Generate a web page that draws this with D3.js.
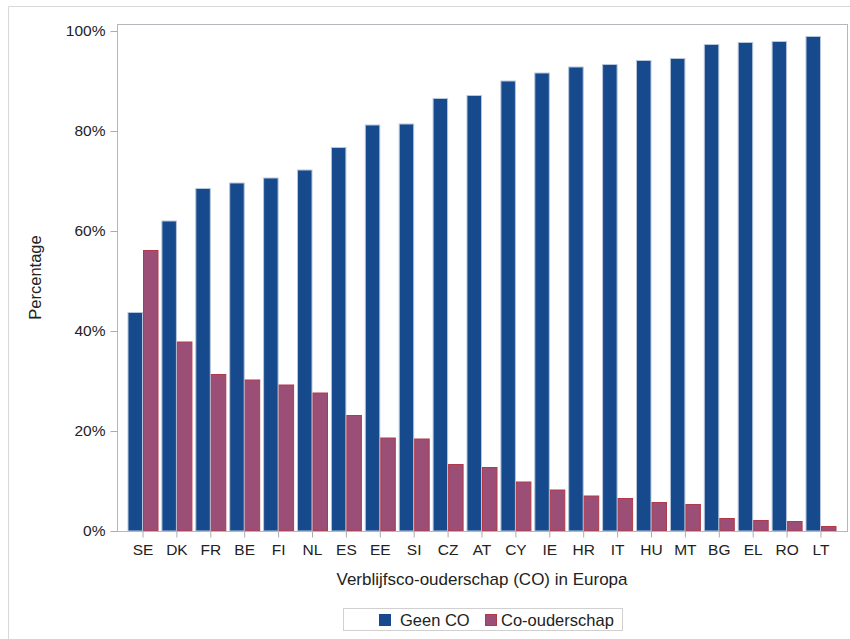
<!DOCTYPE html>
<html><head><meta charset="utf-8">
<script src="https://cdn.jsdelivr.net/npm/d3@7"></script>
<style>body{margin:0;background:#fff}svg{display:block;font-family:Arial,"Liberation Sans",sans-serif}</style>
</head><body>
<svg id="c" width="850" height="639"></svg>
<script>
const categories = ["SE","DK","FR","BE","FI","NL","ES","EE","SI","CZ","AT","CY","IE","HR","IT","HU","MT","BG","EL","RO","LT"];
const geenCO = [43.8,62.1,68.6,69.7,70.7,72.3,76.8,81.3,81.5,86.6,87.2,90.1,91.7,92.9,93.4,94.2,94.6,97.4,97.8,98.0,99.0];
const coOuderschap = [56.2,37.9,31.4,30.3,29.3,27.7,23.2,18.7,18.5,13.4,12.8,9.9,8.3,7.1,6.6,5.8,5.4,2.6,2.2,2.0,1.0];
const seriesNames = ["Geen CO","Co-ouderschap"];
const yTicks = [0,20,40,60,80,100];

const svg = d3.select("#c");
const W = 850, H = 639;
const L = 117, R = 848, T = 24, B = 531;
const FONT = "Arial,'Liberation Sans',sans-serif";

// outer frame
svg.append("path").attr("d",`M8.5,${H} V6.5 H${W}`).attr("fill","none").attr("stroke","#d8d8d8");

const x = d3.scaleBand().domain(categories).range([127.5, 836.5]).paddingInner(0.0855).paddingOuter(0);
const x1 = d3.scaleBand().domain(seriesNames).range([0, x.bandwidth()]);
const y = d3.scaleLinear().domain([0,100]).range([B, 31]);

const colors = {fill:["#164a8c","#9b4f76"], stroke:["#b8c6dc","#b23a48"]};

const data = [geenCO, coOuderschap];
const g = svg.append("g");
data.forEach((vals, si) => {
  g.selectAll(null).data(categories).enter().append("rect")
    .attr("x", c => x(c) + x1(seriesNames[si]) + 0.5)
    .attr("y", (c,i) => y(vals[i]) + 0.5)
    .attr("width", x1.bandwidth() - 1)
    .attr("height", (c,i) => B - y(vals[i]) - 0.5)
    .attr("fill", colors.fill[si])
    .attr("stroke", colors.stroke[si])
    .attr("stroke-width", 1);
});

// plot border
svg.append("rect").attr("x",L+0.5).attr("y",T+0.5).attr("width",R-L-1).attr("height",B-T)
  .attr("fill","none").attr("stroke","#b4b8bc");

// y axis
const ya = svg.append("g").attr("transform",`translate(${L+0.5},0)`)
  .call(d3.axisLeft(y).tickValues(yTicks).tickFormat(d=>d+"%").tickSize(7).tickSizeOuter(0));
ya.select(".domain").remove();
ya.selectAll("line").attr("stroke","#a8acb0");
ya.selectAll("text").attr("font-size",15.5).attr("fill","#222").attr("dx",-2).attr("font-family",FONT);

// x axis
const xa = svg.append("g").attr("transform",`translate(0,${B+0.5})`)
  .call(d3.axisBottom(x).tickSize(6).tickSizeOuter(0));
xa.select(".domain").remove();
xa.selectAll("line").attr("stroke","#a8acb0");
xa.selectAll("text").attr("font-size",15.5).attr("fill","#222").attr("dy","0.95em").attr("font-family",FONT);

// axis titles
svg.append("text").attr("x",(L+R)/2 - 0.5).attr("y",585).attr("text-anchor","middle")
  .attr("font-size",17).attr("fill","#222").text("Verblijfsco-ouderschap (CO) in Europa");
svg.append("text").attr("transform",`translate(41,${(T+B)/2}) rotate(-90)`).attr("text-anchor","middle")
  .attr("font-size",16.5).attr("fill","#222").text("Percentage");

// legend
const lg = svg.append("g");
lg.append("rect").attr("x",343.5).attr("y",608.5).attr("width",279).attr("height",22).attr("fill","#fff").attr("stroke","#d0d0d0");
const items = [{x:379, tx:400, name:seriesNames[0]},{x:485, tx:501, name:seriesNames[1]}];
items.forEach((it,i)=>{
  lg.append("rect").attr("x",it.x+0.5).attr("y",614.5).attr("width",11).attr("height",11)
    .attr("fill",colors.fill[i]).attr("stroke",i===0?"#164a8c":"#b23a48");
  lg.append("text").attr("x",it.tx).attr("y",626).attr("font-size",16.5).attr("fill","#222").text(it.name);
});
</script>
</body></html>
